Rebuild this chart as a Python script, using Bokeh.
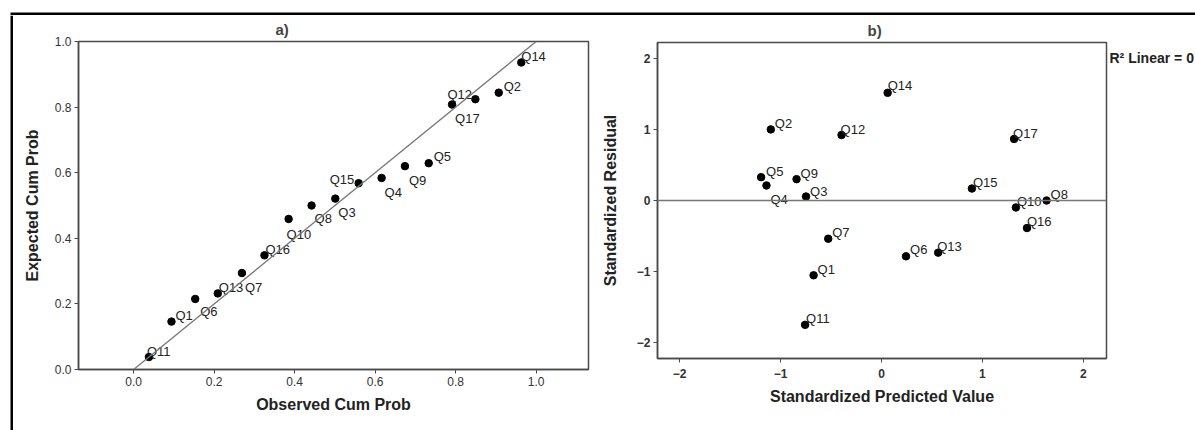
from bokeh.plotting import figure
from bokeh.layouts import row, column
from bokeh.models import (ColumnDataSource, Slope, Span, FixedTicker, PrintfTickFormatter,
                          Range1d, BoxAnnotation)
from bokeh.core.properties import value
from bokeh.embed import file_html
from bokeh.resources import INLINE

# ---------------- data ----------------
items = ["Q1", "Q2", "Q3", "Q4", "Q5", "Q6", "Q7", "Q8", "Q9", "Q10",
         "Q11", "Q12", "Q13", "Q14", "Q15", "Q16", "Q17"]

# a) P-P plot
observed_cum_prob = [0.094, 0.907, 0.501, 0.616, 0.733, 0.153, 0.269, 0.442, 0.674, 0.385,
                     0.038, 0.849, 0.209, 0.963, 0.559, 0.325, 0.791]
expected_cum_prob = [0.146, 0.844, 0.521, 0.584, 0.629, 0.215, 0.294, 0.500, 0.620, 0.459,
                     0.038, 0.824, 0.232, 0.936, 0.568, 0.348, 0.808]

# b) residual plot
std_predicted = [-0.673, -1.097, -0.748, -1.140, -1.193, 0.243, -0.528, 1.636, -0.842, 1.332,
                 -0.757, -0.396, 0.562, 0.061, 0.896, 1.442, 1.314]
std_residual = [-1.051, 0.999, 0.056, 0.211, 0.328, -0.784, -0.537, 0.000, 0.300, -0.098,
                -1.747, 0.920, -0.733, 1.513, 0.168, -0.387, 0.864]

pp_ticks = [0.0, 0.2, 0.4, 0.6, 0.8, 1.0]
res_ticks = [-2, -1, 0, 1, 2]
r2_text = "R\u00b2 Linear = 0"

# label placement (pixel offsets, style only)
a_dx = [4, 5, 3, 3, 5, 5, 3, 3, 4, -2, -2, -28, 1, 0, -29, 1, 3]
a_dy = [-6, -6, 14, 15, -7, 13, 14, 13, 14, 16, -6, -5, -6, -6, -4, -6, 14]
b_dx = [4, 4, 4, 4, 5, 4, 4, 4, 4, 1, 1, -1, -1, 0, 1, 0, -1]
b_dy = [-6, -6, -5, 14, -6, -7, -6, -6, -6, -6, -6, -6, -6, -7, -6, -7, -6]

FONT = "Liberation Sans"
FRAME = "#4a4a4a"
LINE = "#777777"


def style_axes(p, bold_ticks=False):
    for ax in (p.xaxis[0], p.yaxis[0]):
        ax.axis_line_color = FRAME
        ax.axis_line_width = 1.5
        ax.major_tick_line_color = FRAME
        ax.major_tick_out = 4
        ax.major_tick_in = 0
        ax.minor_tick_line_color = None
        ax.major_label_text_font = FONT
        ax.major_label_text_font_size = "12px"
        ax.major_label_text_color = "#333333"
        ax.major_label_text_font_style = "bold" if bold_ticks else "normal"
        ax.major_label_text_line_height = 1.0
        ax.axis_label_text_font = FONT
        ax.axis_label_text_font_size = "16px"
        ax.axis_label_text_font_style = "bold"
        ax.axis_label_text_color = "#222222"
        ax.axis_label_text_line_height = 1.0
    p.yaxis.major_label_standoff = 3
    p.xgrid.grid_line_color = None
    p.ygrid.grid_line_color = None
    p.outline_line_color = FRAME
    p.outline_line_width = 1.5
    p.title.text_font = FONT
    p.title.text_font_size = "15px"
    p.title.text_font_style = "bold"
    p.title.text_line_height = 1.0
    p.title.align = "left"
    p.title.standoff = 7


# ---------------- panel a ----------------
srcA = ColumnDataSource(dict(x=observed_cum_prob, y=expected_cum_prob, name=items, dx=a_dx, dy=a_dy))
pA = figure(width=582, height=415, title="a)", output_backend="svg", toolbar_location=None,
            x_range=Range1d(-0.137, 1.13), y_range=Range1d(0.0, 1.0),
            min_border_left=65, min_border_right=7, min_border_top=24, min_border_bottom=61)
style_axes(pA)
pA.title.offset = 197
pA.xaxis.ticker = FixedTicker(ticks=pp_ticks)
pA.yaxis.ticker = FixedTicker(ticks=pp_ticks)
pA.xaxis.formatter = PrintfTickFormatter(format="%.1f")
pA.yaxis.formatter = PrintfTickFormatter(format="%.1f")
pA.xaxis.axis_label = "Observed Cum Prob"
pA.yaxis.axis_label = "Expected Cum Prob"
pA.xaxis.major_label_standoff = 3
pA.xaxis.axis_label_standoff = 7
pA.yaxis.axis_label_standoff = 11
pA.add_layout(Slope(gradient=1, y_intercept=0, line_color=LINE, line_width=1.3))
pA.scatter("x", "y", source=srcA, size=7.5, color="black")
pA.text("x", "y", text="name", x_offset="dx", y_offset="dy", source=srcA,
        text_font=value(FONT), text_font_size="13px", text_color="#222222",
        text_baseline="alphabetic", text_align="left")

# ---------------- panel b ----------------
srcB = ColumnDataSource(dict(x=std_predicted, y=std_residual, name=items, dx=b_dx, dy=b_dy))
pB = figure(width=514, height=415, title="b)", output_backend="svg", toolbar_location=None,
            x_range=Range1d(-2.22, 2.23), y_range=Range1d(-2.22, 2.22),
            min_border_left=62, min_border_right=3, min_border_top=27, min_border_bottom=72)
style_axes(pB, bold_ticks=True)
pB.title.offset = 210
pB.xaxis.ticker = FixedTicker(ticks=res_ticks)
pB.yaxis.ticker = FixedTicker(ticks=res_ticks)
pB.xaxis.axis_label = "Standardized Predicted Value"
pB.yaxis.axis_label = "Standardized Residual"
pB.xaxis.major_label_standoff = 6
pB.xaxis.axis_label_standoff = 7
pB.yaxis.axis_label_standoff = 15
pB.add_layout(Span(location=0, dimension="width", line_color=LINE, line_width=1.3))
pB.scatter("x", "y", source=srcB, size=7.5, color="black")
pB.text("x", "y", text="name", x_offset="dx", y_offset="dy", source=srcB,
        text_font=value(FONT), text_font_size="13px", text_color="#222222",
        text_baseline="alphabetic", text_align="left")


# ---------------- decorative pieces (pixel-space figures) ----------------
def pixel_fig(w, h):
    f = figure(width=w, height=h, title=None, output_backend="svg", toolbar_location=None,
               x_axis_location=None, y_axis_location=None, min_border=0,
               x_range=Range1d(0, w), y_range=Range1d(0, h),
               background_fill_color="white", border_fill_color="white",
               outline_line_color=None)
    f.grid.grid_line_color = None
    return f


# R² legend text, cut by the window edge as in the original
pR = pixel_fig(86, 415)
pR.text(x=[0], y=[373], text=[r2_text], text_font=value(FONT), text_font_size="14px",
        text_font_style="bold", text_color="#222222", text_baseline="alphabetic")

# outer black border (left and top)
top_strip = pixel_fig(1195, 15)
top_strip.add_layout(BoxAnnotation(left=10, right=1195, bottom=0, top=3,
                                   fill_color="black", fill_alpha=1, line_color=None))
left_strip = pixel_fig(13, 415)
left_strip.add_layout(BoxAnnotation(left=10, right=13, bottom=0, top=415,
                                    fill_color="black", fill_alpha=1, line_color=None))

layout = column(top_strip,
                row(column(left_strip), column(pA), column(pB), column(pR)))

open("out.html", "w").write(file_html(layout, INLINE))
